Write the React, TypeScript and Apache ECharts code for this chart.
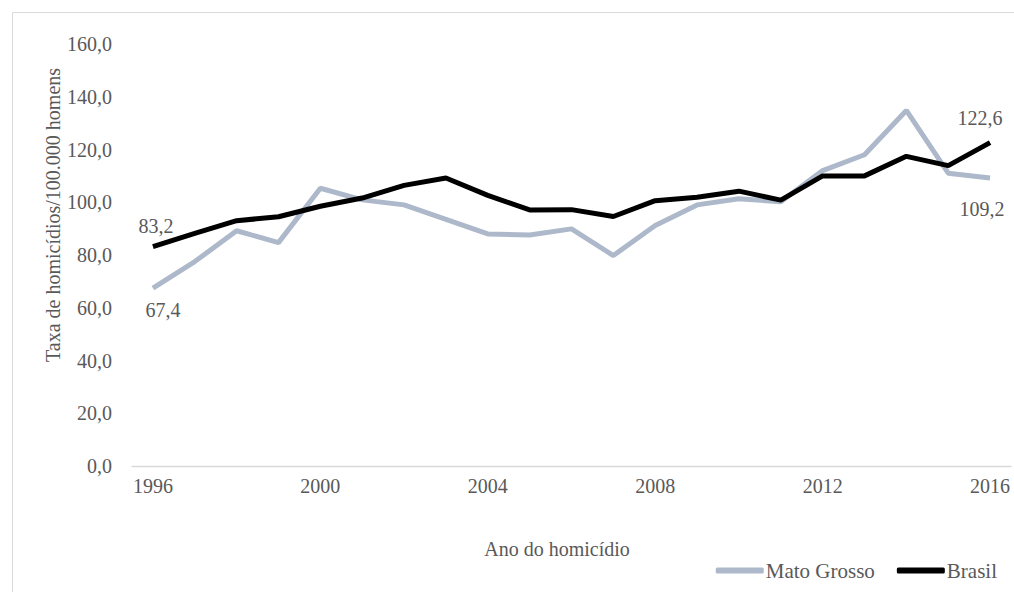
import React, { useEffect, useRef } from "react";
import * as echarts from "echarts";

const years = ["1996","1997","1998","1999","2000","2001","2002","2003","2004","2005","2006","2007","2008","2009","2010","2011","2012","2013","2014","2015","2016"];
const matoGrosso = [67.4, 77.5, 89.2, 84.7, 105.3, 100.9, 99.0, 93.5, 88.0, 87.6, 89.9, 79.8, 91.2, 99.0, 101.3, 100.2, 112.0, 118.0, 134.8, 111.0, 109.2];
const brasil = [83.2, 88.2, 93.0, 94.5, 98.5, 101.6, 106.4, 109.2, 102.6, 97.1, 97.2, 94.6, 100.6, 101.9, 104.2, 100.8, 110.0, 110.0, 117.4, 113.9, 122.6];
const yTicks = { min: 0, max: 160, interval: 20 };
const seriesNames = ["Mato Grosso", "Brasil"];
const yName = "Taxa de homicídios/100.000 homens";
const xName = "Ano do homicídio";

const FONT = "'Liberation Serif', 'Times New Roman', serif";
const TXT = "#595959";
const FS = 20;

const fmt = (v: number) => v.toFixed(1).replace(".", ",");

function withEndLabels(values: number[], pos: string, firstOffset: number[], lastOffset: number[]) {
  return values.map((v, i) => {
    const isEnd = i === 0 || i === values.length - 1;
    return {
      value: v,
      label: isEnd
        ? {
            show: true,
            position: pos,
            distance: 12,
            formatter: (p: any) => fmt(p.value),
            color: TXT,
            fontFamily: FONT,
            fontSize: FS,
            offset: i === 0 ? firstOffset : lastOffset,
          }
        : { show: false },
    };
  });
}

export default function App() {
  const ref = useRef<HTMLDivElement>(null);
  useEffect(() => {
    if (!ref.current) return;
    const chart = echarts.init(ref.current, undefined, { renderer: "svg" });
    chart.setOption({
      animation: false,
      backgroundColor: "#ffffff",
      grid: { left: 132, right: 3, top: 44, bottom: 126, containLabel: false },
      xAxis: {
        type: "category",
        data: years,
        boundaryGap: true,
        axisLine: { lineStyle: { color: "#d9d9d9", width: 1.3 } },
        axisTick: { show: false },
        axisLabel: {
          interval: 3,
          color: TXT,
          fontFamily: FONT,
          fontSize: FS,
          margin: 10,
        },
      },
      yAxis: {
        type: "value",
        min: yTicks.min,
        max: yTicks.max,
        interval: yTicks.interval,
        axisLine: { show: false },
        axisTick: { show: false },
        splitLine: { show: false },
        axisLabel: {
          color: TXT,
          fontFamily: FONT,
          fontSize: FS,
          margin: 20,
          formatter: (v: number) => fmt(v),
        },
      },
      legend: {
        right: 12,
        top: 555,
        itemWidth: 48,
        itemHeight: 6,
        itemGap: 22,
        icon: "roundRect",
        textStyle: { color: TXT, fontFamily: FONT, fontSize: 21, padding: [0, 0, 0, -3] },
        data: seriesNames,
      },
      graphic: [
        { type: "line", shape: { x1: 12.5, y1: 12.5, x2: 1014, y2: 12.5 }, style: { stroke: "#d9d9d9", lineWidth: 1 } },
        { type: "line", shape: { x1: 12.5, y1: 12.5, x2: 12.5, y2: 592 }, style: { stroke: "#d9d9d9", lineWidth: 1 } },
        {
          type: "text",
          x: 53,
          y: 215,
          rotation: Math.PI / 2,
          style: { text: yName, fill: TXT, font: `${FS}px ${FONT}`, align: "center", verticalAlign: "middle" },
        },
        {
          type: "text",
          x: 557,
          y: 549,
          style: { text: xName, fill: TXT, font: `${FS}px ${FONT}`, align: "center", verticalAlign: "middle" },
        },
      ],
      series: [
        {
          name: seriesNames[0],
          type: "line",
          data: withEndLabels(matoGrosso, "bottom", [10, 0], [-8, 9]),
          symbol: "circle",
          symbolSize: 0,
          showSymbol: true,
          lineStyle: { color: "#adb9ca", width: 5 },
          itemStyle: { color: "#adb9ca" },
          z: 2,
        },
        {
          name: seriesNames[1],
          type: "line",
          data: withEndLabels(brasil, "top", [3, 1], [-10, -3]),
          symbol: "circle",
          symbolSize: 0,
          showSymbol: true,
          lineStyle: { color: "#000000", width: 5 },
          itemStyle: { color: "#000000" },
          z: 3,
        },
      ],
    });
    return () => chart.dispose();
  }, []);
  return (
    <div
      ref={ref}
      style={{ position: "fixed", left: 0, top: 0, width: 1014, height: 592, background: "#fff" }}
    />
  );
}
